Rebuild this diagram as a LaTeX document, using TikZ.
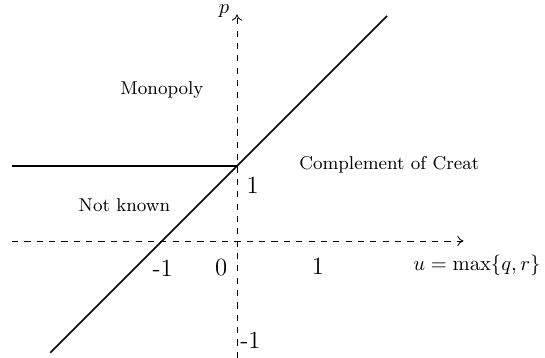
\documentclass[tikz,border=0pt]{standalone}
\usepackage{amsmath, amssymb}
\usepackage{tikz}
\usetikzlibrary{arrows.meta, calc}
\tikzset{axisline/.style={dashed, thin, -{To[length=3pt,width=5pt]}},
  regionline/.style={thick},
  regionlab/.style={font=\small},
  ticklab/.style={font=\large}}

\begin{document}
\begin{tikzpicture}[x=1.28cm, y=1.28cm]
\useasboundingbox (-3.16,-1.56) rectangle (4.107,3.213);
% ===== axes =====
\coordinate (O) at (0,0);
\coordinate (xL) at (-3,0);
\coordinate (xR) at (3.02,0);
\coordinate (yB) at (0,-1.56);
\coordinate (yT) at (0,3.02);
\draw[axisline] (xL) -- (xR);
\draw[axisline] (yB) -- (yT);
\node[anchor=east, inner sep=1pt] (plab) at (-0.07,3.06) {$p$};
\node (ulab) at (3.2,-0.33) {$u=\max\{q,r\}$};
% ===== region boundaries: p = u+1 and p = 1 for u<0 =====
\coordinate (dA) at (-2.49,-1.49);
\coordinate (dB) at (2.0,3.0);
\coordinate (hL) at (-3,1);
\coordinate (hR) at (0,1);
\draw[regionline] (dA) -- (dB);
\draw[regionline] (hL) -- (hR);
% tick labels
\node[ticklab] (t1p) at (0.21,0.74) {1};
\node[ticklab] (tm1u) at (-0.99,-0.36) {-1};
\node[ticklab] (t0) at (-0.21,-0.36) {0};
\node[ticklab] (t1u) at (1.08,-0.34) {1};
\node[ticklab, anchor=west, inner sep=0pt] (tm1p) at (0.04,-1.32) {-1};
% region names
\node[regionlab] (mono) at (-1.0,2.01) {Monopoly};
\node[regionlab] (nk) at (-1.5,0.48) {Not known};
\node[regionlab] (comp) at (2.03,1.01) {Complement of Creat};
\end{tikzpicture}
\end{document}
